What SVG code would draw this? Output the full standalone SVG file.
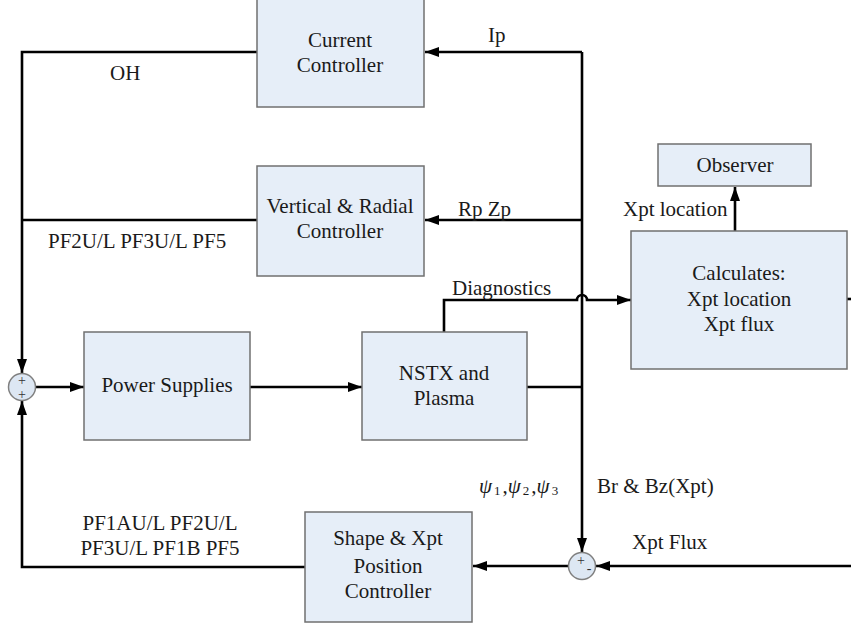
<svg xmlns="http://www.w3.org/2000/svg" width="851" height="628" viewBox="0 0 851 628">
<defs>
<marker id="ah" markerUnits="userSpaceOnUse" markerWidth="15" markerHeight="11" refX="14" refY="5" orient="auto">
<path d="M0,0 L14,5 L0,10 z" fill="#000"/>
</marker>
<style>
text{font-family:'Liberation Serif','Times New Roman',Tinos,'Nimbus Roman','FreeSerif','DejaVu Serif',serif}
.box{fill:#e6eef8;stroke:#707070;stroke-width:1.5}
.sum{fill:#dde7f3;stroke:#808080;stroke-width:1.5}
.t{font-size:21px;fill:#1a1a1a;text-anchor:middle}
.l{font-size:21px;fill:#1a1a1a}
.c{fill:none;stroke:#000;stroke-width:2.6}
.a{marker-end:url(#ah)}
.sg{font-size:14px;fill:#333;text-anchor:middle}
</style>
</defs>
<rect width="851" height="628" fill="#fff"/>
<g id="connectors">
<path class="c a" d="M257,52 H22 V373"/>
<path class="c" d="M257,220 H22"/>
<path class="c a" d="M36,387 H84"/>
<path class="c a" d="M250,387 H362"/>
<path class="c" d="M527,387 H582"/>
<path class="c a" d="M582,52 V552"/>
<path class="c a" d="M582,52 H425"/>
<path class="c a" d="M582,220 H425"/>
<path class="c a" d="M444,332 V300 H577 A5,5 0 0 1 587,300 H631"/>
<path class="c a" d="M735,231 V187"/>
<path class="c" d="M847,299 H851"/>
<path class="c a" d="M851,566 H596"/>
<path class="c a" d="M568,566 H473"/>
<path class="c a" d="M305,567 H22 V401"/>
</g>
<g id="current-controller">
<rect class="box" x="257" y="-2" width="167" height="109"/>
<text class="t" x="340" y="47">Current</text>
<text class="t" x="340" y="72">Controller</text>
</g>
<g id="vr-controller">
<rect class="box" x="257" y="166" width="167" height="110"/>
<text class="t" x="340" y="213">Vertical &amp; Radial</text>
<text class="t" x="340" y="238">Controller</text>
</g>
<g id="power-supplies">
<rect class="box" x="84" y="332" width="166" height="108"/>
<text class="t" x="167" y="392">Power Supplies</text>
</g>
<g id="nstx">
<rect class="box" x="362" y="332" width="165" height="108"/>
<text class="t" x="444" y="380">NSTX and</text>
<text class="t" x="444" y="405">Plasma</text>
</g>
<g id="calculates">
<rect class="box" x="631" y="231" width="216" height="138"/>
<text class="t" x="739" y="280">Calculates:</text>
<text class="t" x="739" y="306">Xpt location</text>
<text class="t" x="739" y="331">Xpt flux</text>
</g>
<g id="observer">
<rect class="box" x="658" y="144" width="153" height="42"/>
<text class="t" x="735" y="172">Observer</text>
</g>
<g id="shape-controller">
<rect class="box" x="305" y="512" width="167" height="110"/>
<text class="t" x="388" y="545">Shape &amp; Xpt</text>
<text class="t" x="388" y="573">Position</text>
<text class="t" x="388" y="598">Controller</text>
</g>
<g id="sum-left">
<circle class="sum" cx="22" cy="387" r="13.5"/>
<text class="sg" x="22" y="385">+</text>
<text class="sg" x="22" y="399">+</text>
</g>
<g id="sum-bottom">
<circle class="sum" cx="582" cy="566" r="13.5"/>
<text class="sg" x="581" y="565">+</text>
<text class="sg" x="589" y="573">-</text>
</g>
<g id="labels">
<text class="l" x="110" y="80">OH</text>
<text class="l" x="48" y="248">PF2U/L PF3U/L PF5</text>
<text class="l" x="488" y="42">Ip</text>
<text class="l" x="458" y="216">Rp Zp</text>
<text class="l" x="452" y="295">Diagnostics</text>
<text class="l" x="623" y="216">Xpt location</text>
<text class="l" x="479" y="493"><tspan font-style="italic">ψ</tspan><tspan font-size="13" dx="2" dy="2">1</tspan><tspan dx="2" dy="-2">,</tspan><tspan font-style="italic">ψ</tspan><tspan font-size="13" dx="2" dy="2">2</tspan><tspan dx="2" dy="-2">,</tspan><tspan font-style="italic">ψ</tspan><tspan font-size="13" dx="2" dy="2">3</tspan></text>
<text class="l" x="597" y="493">Br &amp; Bz(Xpt)</text>
<text class="l" x="632" y="549">Xpt Flux</text>
<text class="t" x="160" y="530">PF1AU/L PF2U/L</text>
<text class="t" x="160" y="555">PF3U/L PF1B PF5</text>
</g>
</svg>
